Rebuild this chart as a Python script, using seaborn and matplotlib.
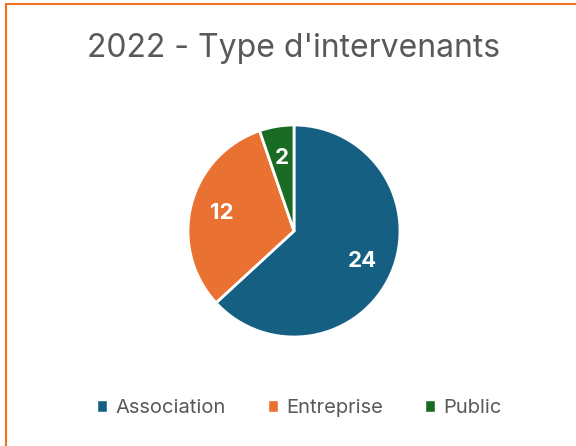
import matplotlib
matplotlib.use('AGG')
import matplotlib.pyplot as plt
from matplotlib.lines import Line2D
from matplotlib.patches import Patch
import seaborn as sns

# data
categories = ['Association', 'Entreprise', 'Public']
values = [24, 12, 2]
colors = ['#156082', '#E97132', '#196B24']
title = "2022 - Type d'intervenants"

sns.set_theme(style='white')
plt.rcParams['font.family'] = ['Inter', 'DejaVu Sans']

fig = plt.figure(figsize=(5.76, 4.46), dpi=100)
ax = fig.add_axes([188 / 576, 109 / 446, 212 / 576, 212 / 446])

wedges, texts, autotexts = ax.pie(
    values, colors=colors, startangle=90, counterclock=False,
    autopct=lambda p: '%d' % round(p * sum(values) / 100),
    pctdistance=0.7, radius=1,
    wedgeprops=dict(edgecolor='white', linewidth=2),
)
for t in autotexts:
    t.set_color('white')
    t.set_fontsize(16)
    t.set_fontweight('bold')
ax.set_xlim(-1, 1)
ax.set_ylim(-1, 1)
ax.set_aspect('equal')

fig.text(0.51, 1 - 49 / 446, title, ha='center', va='center', fontsize=23, color='#595959')

handles = [Patch(facecolor=c, label=l) for c, l in zip(colors, categories)]
fig.legend(handles=handles, loc='center', bbox_to_anchor=(0.52, 1 - 408 / 446), ncol=3,
           frameon=False, fontsize=14.5, labelcolor='#595959',
           handlelength=0.5, handleheight=0.5, handletextpad=0.4, columnspacing=2.1)

# orange border (top and left)
fig.add_artist(Line2D([6 / 576, 1], [1 - 4 / 446, 1 - 4 / 446], transform=fig.transFigure, color='#F07022', linewidth=1.5))
fig.add_artist(Line2D([6 / 576, 6 / 576], [0, 1 - 4 / 446], transform=fig.transFigure, color='#F07022', linewidth=1.5))

fig.savefig('out.png', dpi=100)
